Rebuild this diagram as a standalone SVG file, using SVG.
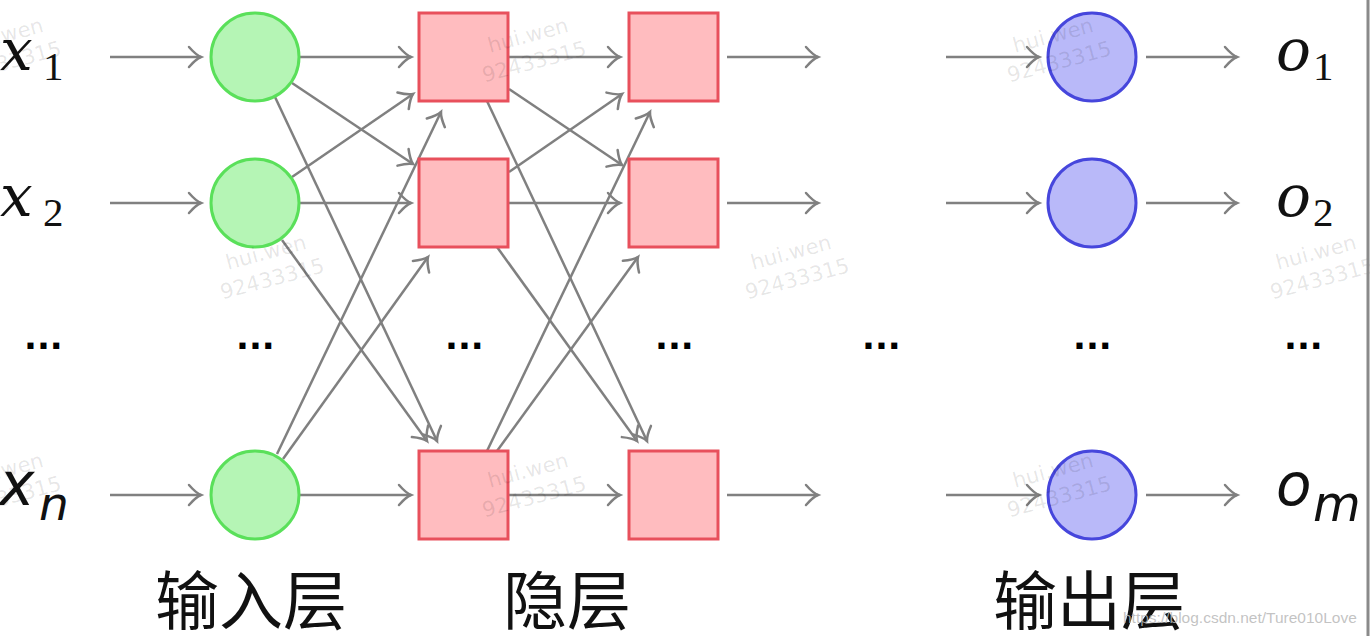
<svg xmlns="http://www.w3.org/2000/svg" width="1370" height="636" viewBox="0 0 1370 636">
<style>
.c-in{fill:#b5f5b5;stroke:#5ae05a;stroke-width:3}
.c-hid{fill:#ffbcbf;stroke:#e8505c;stroke-width:3}
.c-out{fill:#b9b9f9;stroke:#4646dc;stroke-width:3}
.conn line{stroke:#808080;stroke-width:2.5;fill:none;marker-end:url(#arr)}
.mi{font-family:"DejaVu Serif",serif;font-style:italic;fill:#111}
.mr{font-family:"Liberation Serif",serif;fill:#111}
.ms{font-family:"DejaVu Sans",sans-serif;font-style:oblique;fill:#111}
.dots{font-family:"DejaVu Sans",sans-serif;font-weight:bold;font-size:34px;fill:#000}
.cn{font-family:"Noto Sans CJK SC",sans-serif;font-size:64px;fill:#111}
.wm{font-family:"DejaVu Sans",sans-serif;font-size:21px;fill:#000;fill-opacity:0.1}
</style>
<defs>
<marker id="arr" markerUnits="userSpaceOnUse" markerWidth="30" markerHeight="30" refX="0" refY="0" viewBox="-15 -15 30 30" orient="auto" overflow="visible">
<path d="M-12,-10 Q-5,-2 0,0 Q-5,2 -12,10" fill="none" stroke="#808080" stroke-width="2.5" stroke-linecap="round"/>
</marker>
</defs>
<rect width="1370" height="636" fill="#fff"/>

<g id="connectors" class="conn">
<line x1="110" y1="57" x2="201" y2="57"/>
<line x1="110" y1="203" x2="201" y2="203"/>
<line x1="110" y1="495" x2="201" y2="495"/>
<line x1="300" y1="57" x2="411" y2="57"/>
<line x1="300" y1="203" x2="411" y2="203"/>
<line x1="300" y1="495" x2="411" y2="495"/>
<line x1="509" y1="57" x2="620" y2="57"/>
<line x1="509" y1="203" x2="620" y2="203"/>
<line x1="509" y1="495" x2="620" y2="495"/>
<line x1="727" y1="57" x2="818" y2="57"/>
<line x1="727" y1="203" x2="818" y2="203"/>
<line x1="727" y1="495" x2="818" y2="495"/>
<line x1="946" y1="57" x2="1039" y2="57"/>
<line x1="946" y1="203" x2="1039" y2="203"/>
<line x1="946" y1="495" x2="1039" y2="495"/>
<line x1="1146" y1="57" x2="1237" y2="57"/>
<line x1="1146" y1="203" x2="1237" y2="203"/>
<line x1="1146" y1="495" x2="1237" y2="495"/>
<line x1="292" y1="83" x2="413" y2="164"/>
<line x1="275" y1="97" x2="437" y2="441"/>
<line x1="292" y1="177" x2="413" y2="94"/>
<line x1="282" y1="240" x2="427" y2="441"/>
<line x1="277" y1="454" x2="441" y2="112"/>
<line x1="283" y1="459" x2="428" y2="257"/>
<line x1="509" y1="89" x2="622" y2="165"/>
<line x1="487" y1="101" x2="647" y2="441"/>
<line x1="509" y1="172" x2="622" y2="94"/>
<line x1="497" y1="247" x2="637" y2="441"/>
<line x1="487" y1="451" x2="650" y2="112"/>
<line x1="497" y1="451" x2="638" y2="257"/>
</g>

<g id="in1"><circle class="c-in" cx="255" cy="57" r="44"/></g>
<g id="in2"><circle class="c-in" cx="255" cy="203" r="44"/></g>
<g id="inn"><circle class="c-in" cx="255" cy="495" r="44"/></g>
<g id="h11"><rect class="c-hid" x="419" y="13" width="89" height="88"/></g>
<g id="h12"><rect class="c-hid" x="419" y="159" width="89" height="88"/></g>
<g id="h1n"><rect class="c-hid" x="419" y="451" width="89" height="88"/></g>
<g id="h21"><rect class="c-hid" x="629" y="13" width="89" height="88"/></g>
<g id="h22"><rect class="c-hid" x="629" y="159" width="89" height="88"/></g>
<g id="h2n"><rect class="c-hid" x="629" y="451" width="89" height="88"/></g>
<g id="o1n"><circle class="c-out" cx="1092" cy="57" r="44"/></g>
<g id="o2n"><circle class="c-out" cx="1092" cy="203" r="44"/></g>
<g id="omn"><circle class="c-out" cx="1092" cy="495" r="44"/></g>

<g id="label-x1"><text class="mi" x="0" y="70" font-size="58">x</text><text class="mr" x="43" y="80" font-size="41">1</text></g>
<g id="label-x2"><text class="mi" x="0" y="216" font-size="58">x</text><text class="mr" x="43" y="226" font-size="41">2</text></g>
<g id="label-xn"><text class="ms" x="-1" y="505" font-size="60">x</text><text class="ms" x="39" y="520" font-size="47">n</text></g>
<g id="label-o1"><text class="mi" x="1276" y="70" font-size="58">o</text><text class="mr" x="1313" y="80" font-size="41">1</text></g>
<g id="label-o2"><text class="mi" x="1276" y="216" font-size="58">o</text><text class="mr" x="1313" y="226" font-size="41">2</text></g>
<g id="label-om"><text class="ms" x="1276" y="505" font-size="58">o</text><text class="ms" x="1313" y="521" font-size="49">m</text></g>

<g id="dots">
<text class="dots" x="24" y="349">...</text>
<text class="dots" x="236" y="349">...</text>
<text class="dots" x="445" y="349">...</text>
<text class="dots" x="655" y="349">...</text>
<text class="dots" x="862" y="349">...</text>
<text class="dots" x="1073" y="349">...</text>
<text class="dots" x="1284" y="349">...</text>
</g>

<g id="layer-labels">
<text class="cn" x="155" y="624">输入层</text>
<text class="cn" x="503" y="624">隐层</text>
<text class="cn" x="993" y="624">输出层</text>
</g>

<g id="watermarks">
<g transform="translate(490,53) rotate(-15)"><text class="wm" x="0" y="0">hui.wen</text><text class="wm" x="-13" y="27">92433315</text></g>
<g transform="translate(1015,53) rotate(-15)"><text class="wm" x="0" y="0">hui.wen</text><text class="wm" x="-13" y="27">92433315</text></g>
<g transform="translate(-35,53) rotate(-15)"><text class="wm" x="0" y="0">hui.wen</text><text class="wm" x="-13" y="27">92433315</text></g>
<g transform="translate(228,270) rotate(-15)"><text class="wm" x="0" y="0">hui.wen</text><text class="wm" x="-13" y="27">92433315</text></g>
<g transform="translate(753,270) rotate(-15)"><text class="wm" x="0" y="0">hui.wen</text><text class="wm" x="-13" y="27">92433315</text></g>
<g transform="translate(1278,270) rotate(-15)"><text class="wm" x="0" y="0">hui.wen</text><text class="wm" x="-13" y="27">92433315</text></g>
<g transform="translate(490,488) rotate(-15)"><text class="wm" x="0" y="0">hui.wen</text><text class="wm" x="-13" y="27">92433315</text></g>
<g transform="translate(1015,488) rotate(-15)"><text class="wm" x="0" y="0">hui.wen</text><text class="wm" x="-13" y="27">92433315</text></g>
<g transform="translate(-35,488) rotate(-15)"><text class="wm" x="0" y="0">hui.wen</text><text class="wm" x="-13" y="27">92433315</text></g>
<text x="1123" y="623" font-family="Liberation Sans, sans-serif" font-size="15.5" fill="#b8b8b8" fill-opacity="0.85">https://blog.csdn.net/Ture010Love</text>
</g>

<line x1="1368" y1="0" x2="1368" y2="636" stroke="#8a8a8a" stroke-width="3"/>
</svg>
